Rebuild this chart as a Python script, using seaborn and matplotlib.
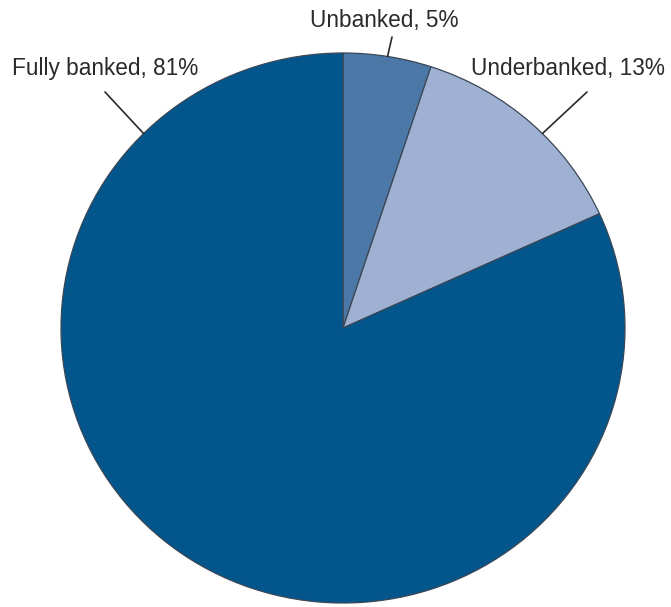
import numpy as np
import matplotlib
matplotlib.use("Agg")
import matplotlib.pyplot as plt
import seaborn as sns

# data
labels = ["Unbanked", "Underbanked", "Fully banked"]
shares = [5, 13, 81]
colors = ["#4b78a7", "#9eb1d3", "#02568c"]

sns.set_theme(style="white")
plt.rcParams["font.family"] = ["Liberation Sans", "DejaVu Sans"]

fig = plt.figure(figsize=(6.71, 6.07), dpi=100)
# axes box = pie bounding box (pixels: x 61..625, y 53..603)
W, H = 671, 607
ax = fig.add_axes([61 / W, 1 - 603 / H, 564 / W, 550 / H])

wedges, _ = ax.pie(shares, colors=colors, startangle=90, counterclock=False,
                   wedgeprops=dict(edgecolor="#3b4756", linewidth=0.9))
ax.set_aspect("auto")
ax.set_xlim(-1, 1)
ax.set_ylim(-1, 1)
ax.axis("off")

# label text left edge / centre y (figure px) and leader line anchor angle on the rim
text_pos = [(310, 20), (471, 68), (12, 68)]
line_start = [(392, 37), (587, 92), (105, 92)]
anchor_deg = [None, 45, 135]

for w, lab, s, tp, ls, ang in zip(wedges, labels, shares, text_pos, line_start, anchor_deg):
    if ang is None:
        ang = (w.theta1 + w.theta2) / 2
    a = np.deg2rad(ang)
    xy = (np.cos(a), np.sin(a))
    fig.text(tp[0] / W, 1 - tp[1] / H, f"{lab}, {s}%", ha="left", va="center",
             fontsize=16.3, color="#2a2a2a")
    ax.annotate("", xy=xy, xycoords="data",
                xytext=(ls[0] / W, 1 - ls[1] / H), textcoords="figure fraction",
                arrowprops=dict(arrowstyle="-", color="#2a2a2a", lw=1.2,
                                shrinkA=0, shrinkB=0))

fig.savefig("out.png", dpi=100)
